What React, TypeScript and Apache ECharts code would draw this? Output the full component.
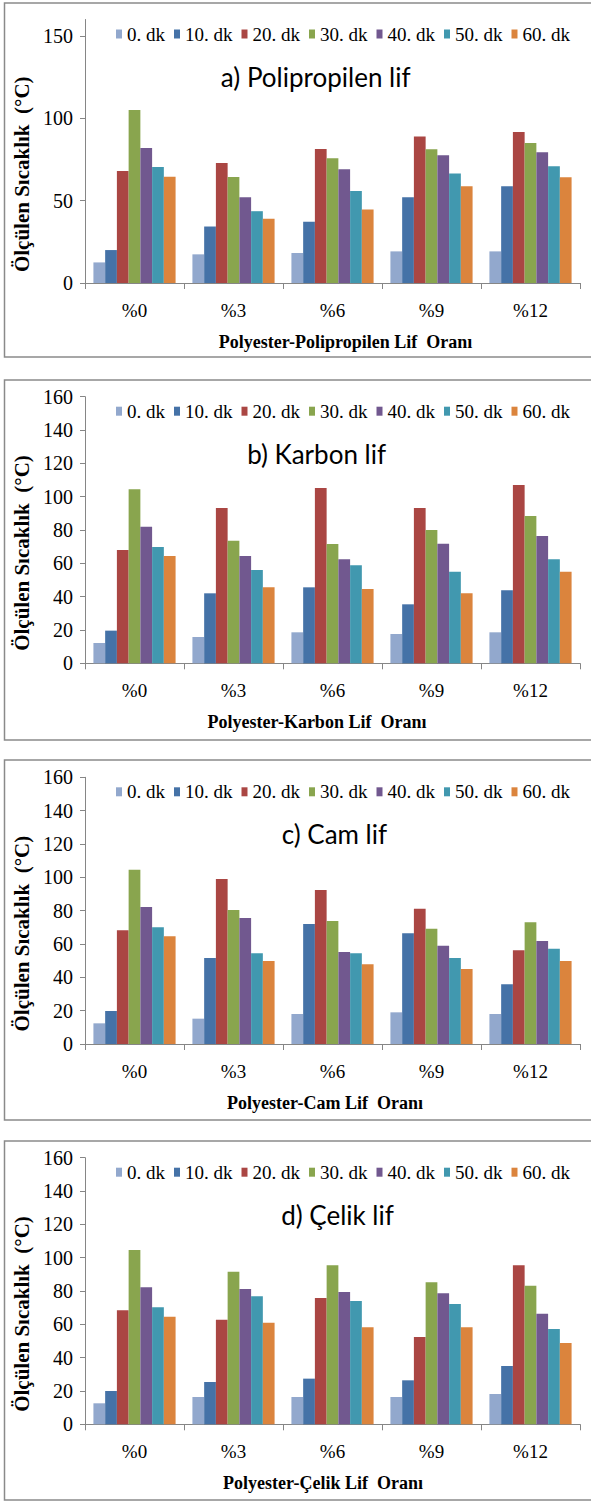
import React, { useEffect, useRef } from "react";
import * as echarts from "echarts";

const categories = ["%0", "%3", "%6", "%9", "%12"];
const seriesNames = ["0. dk", "10. dk", "20. dk", "30. dk", "40. dk", "50. dk", "60. dk"];
const seriesColors = ["#92A8CD", "#4572A7", "#AA4643", "#89A54E", "#71588F", "#4198AF", "#DB843D"];

// rows: 0. dk ... 60. dk ; columns: %0 %3 %6 %9 %12
const polipropilen: number[][] = [
  [12.5, 17.4, 18.2, 19.2, 19.2],
  [20, 34.3, 37.2, 52.1, 58.8],
  [68, 72.9, 81.4, 88.9, 91.7],
  [105, 64.4, 75.7, 81.2, 85],
  [82, 52.1, 69.1, 77.6, 79.4],
  [70.5, 43.6, 55.9, 66.5, 70.9],
  [64.5, 39, 44.6, 58.8, 64.2],
];
const karbon: number[][] = [
  [12.2, 15.8, 18.6, 17.6, 18.6],
  [19.6, 42, 45.6, 35.4, 43.8],
  [68, 93.2, 105.2, 93.2, 107],
  [104.4, 73.6, 71.6, 80, 88.4],
  [82, 64.4, 62.4, 71.8, 76.4],
  [69.8, 56, 58.8, 55, 62.4],
  [64.4, 45.6, 44.6, 42, 55],
];
const cam: number[][] = [
  [12.4, 15.2, 18, 19, 18],
  [19.8, 51.6, 72, 66.4, 35.8],
  [68.2, 99, 92.4, 81.2, 56.2],
  [104.6, 80.4, 73.8, 69.2, 73],
  [82.2, 75.6, 55.2, 59, 61.8],
  [70, 54.4, 54.4, 51.6, 57.2],
  [64.6, 49.8, 47.8, 45, 49.8],
];
const celik: number[][] = [
  [12.6, 16.4, 16.4, 16.4, 18.2],
  [20, 25.4, 27.4, 26.4, 35],
  [68.4, 62.8, 75.8, 52.4, 95.4],
  [104.6, 91.6, 95.4, 85.2, 83.2],
  [82.2, 81.2, 79.4, 78.6, 66.4],
  [70.2, 76.8, 74, 72.2, 57.2],
  [64.6, 61, 58.2, 58.2, 48.8],
];

const panelTitles = ["a) Polipropilen lif", "b) Karbon lif", "c) Cam lif", "d) Çelik lif"];
const xAxisNames = [
  "Polyester-Polipropilen Lif  Oranı",
  "Polyester-Karbon Lif  Oranı",
  "Polyester-Cam Lif  Oranı",
  "Polyester-Çelik Lif  Oranı",
];
const yAxisName = "Ölçülen Sıcaklık  (°C)";
const yIntervals = [50, 20, 20, 20];
const yMax = 160;

// layout
const gridTops = [19.5, 396.7, 777.3, 1157.7];
const gridHeights = [263.5, 266.6, 266.7, 266.6];
const frameTops = [3, 380, 760, 1141];
const frameHeights = [354, 360, 360, 359];
const titleCenters = [315.7, 316.6, 334.4, 337.5];
const xNameShift = [13, -15.5, -7.5, -9.5];

const serif = "Liberation Serif";

export default function App() {
  const ref = useRef<HTMLDivElement>(null);
  useEffect(() => {
    if (!ref.current) return;
    const chart = echarts.init(ref.current, null, { renderer: "svg" });
    const panels = [polipropilen, karbon, cam, celik];

    const grids = panels.map((_, p) => ({
      left: 85,
      width: 495,
      top: gridTops[p],
      height: gridHeights[p],
    }));

    const xAxes = panels.map((_, p) => {
      const s = xNameShift[p];
      return {
        type: "category",
        gridIndex: p,
        data: categories,
        name: xAxisNames[p],
        nameLocation: "middle",
        nameGap: 50,
        nameTextStyle: {
          fontFamily: serif,
          fontWeight: "bold",
          fontSize: 18,
          color: "#000",
          padding: s >= 0 ? [0, 0, 0, 2 * s] : [0, -2 * s, 0, 0],
        },
        axisLine: { show: true, lineStyle: { color: "#868686", width: 1 } },
        axisTick: { show: true, length: 6, lineStyle: { color: "#868686" } },
        axisLabel: { fontFamily: serif, fontSize: 19, color: "#000", margin: 18 },
        splitLine: { show: false },
      };
    });

    const yAxes = panels.map((_, p) => ({
      type: "value",
      gridIndex: p,
      min: 0,
      max: yMax,
      interval: yIntervals[p],
      name: yAxisName,
      nameLocation: "middle",
      nameRotate: 90,
      nameGap: 43,
      nameTextStyle: {
        fontFamily: serif,
        fontWeight: "bold",
        fontSize: 21,
        color: "#000",
        padding: [0, 46, 0, 0],
      },
      axisLine: { show: true, lineStyle: { color: "#868686", width: 1 } },
      axisTick: { show: true, length: 5, lineStyle: { color: "#868686" } },
      axisLabel: {
        fontFamily: serif,
        fontSize: 20,
        color: "#000",
        margin: 12,
        showMaxLabel: p === 0 ? false : true,
      },
      splitLine: { show: false },
    }));

    const series: any[] = [];
    panels.forEach((rows, p) => {
      rows.forEach((vals, k) => {
        series.push({
          type: "bar",
          name: seriesNames[k],
          xAxisIndex: p,
          yAxisIndex: p,
          data: vals,
          barGap: "0%",
          barCategoryGap: "17%",
          itemStyle: { color: seriesColors[k] },
        });
      });
    });

    const legends = panels.map((_, p) => ({
      data: seriesNames,
      left: 116,
      top: gridTops[p] + 5,
      padding: 0,
      icon: "rect",
      itemWidth: 6,
      itemHeight: 9,
      itemGap: 9,
      textStyle: { fontFamily: serif, fontSize: 19, color: "#000" },
      selectedMode: false,
    }));

    const graphics: any[] = [];
    panels.forEach((_, p) => {
      graphics.push({
        type: "rect",
        silent: true,
        z: -1,
        shape: { x: 4.5, y: frameTops[p], width: 588, height: frameHeights[p] },
        style: { fill: "none", stroke: "#8a8a8a", lineWidth: 1.5 },
      });
      graphics.push({
        type: "text",
        silent: true,
        x: titleCenters[p],
        y: gridTops[p] + 57,
        style: {
          text: panelTitles[p],
          font: "26px Lato",
          fill: "#000",
          textAlign: "center",
          textVerticalAlign: "middle",
        },
      });
    });

    chart.setOption({
      animation: false,
      backgroundColor: "#ffffff",
      grid: grids,
      xAxis: xAxes,
      yAxis: yAxes,
      legend: legends,
      series,
      graphic: graphics,
    });
    return () => chart.dispose();
  }, []);

  return (
    <div
      ref={ref}
      style={{ position: "absolute", left: 0, top: 0, width: 591, height: 1501, background: "#fff" }}
    />
  );
}
